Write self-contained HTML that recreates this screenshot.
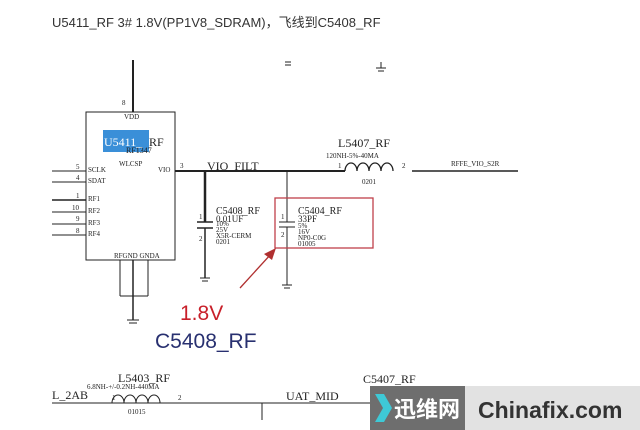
<!DOCTYPE html>
<html><head><style>
body{margin:0;background:#fff;width:640px;height:430px;overflow:hidden}
svg{display:block}
.s{font-family:"Liberation Serif",serif;fill:#222}
</style></head><body>
<svg width="640" height="430" xmlns="http://www.w3.org/2000/svg">
<text x="52" y="27" font-family="Liberation Sans,'Noto Sans CJK SC',sans-serif" font-size="13" fill="#333">U5411_RF 3# 1.8V(PP1V8_SDRAM)，飞线到C5408_RF</text>
<g stroke="#222" fill="none" stroke-width="1">
<line x1="285" y1="62" x2="291" y2="62"/><line x1="285" y1="65" x2="291" y2="65"/>
<line x1="381" y1="62" x2="381" y2="68"/><line x1="376" y1="68" x2="386" y2="68"/><line x1="378" y1="71" x2="384" y2="71"/>
<line x1="133" y1="60" x2="133" y2="112" stroke-width="2"/>
<rect x="86" y="112" width="89" height="148"/>
<line x1="52" y1="171" x2="86" y2="171"/><line x1="52" y1="182" x2="86" y2="182"/>
<line x1="52" y1="200" x2="86" y2="200" stroke-width="1.5"/><line x1="52" y1="212" x2="86" y2="212"/>
<line x1="52" y1="224" x2="86" y2="224"/><line x1="52" y1="235" x2="86" y2="235"/>
<line x1="120" y1="260" x2="120" y2="296"/><line x1="148" y1="260" x2="148" y2="296"/><line x1="120" y1="296" x2="148" y2="296"/>
<line x1="133" y1="260" x2="133" y2="320" stroke-width="1.5"/>
<line x1="127" y1="320" x2="139" y2="320"/><line x1="129" y1="323" x2="137" y2="323"/>
<line x1="175" y1="171" x2="345" y2="171" stroke-width="2"/>
<line x1="205" y1="171" x2="205" y2="222" stroke-width="2.5"/>
<line x1="197" y1="222" x2="213" y2="222" stroke-width="1.5"/><line x1="197" y1="228" x2="213" y2="228" stroke-width="1.5"/>
<line x1="205" y1="228" x2="205" y2="278" stroke-width="1.5"/>
<line x1="200" y1="278" x2="210" y2="278"/><line x1="202" y1="281" x2="208" y2="281"/>
<line x1="287" y1="171" x2="287" y2="222"/>
<line x1="279" y1="222" x2="295" y2="222"/><line x1="279" y1="227" x2="295" y2="227"/>
<line x1="287" y1="227" x2="287" y2="285"/>
<line x1="282" y1="285" x2="292" y2="285"/><line x1="284" y1="288" x2="290" y2="288"/>
<path d="M345 171 a6 8 0 0 1 12 0 a6 8 0 0 1 12 0 a6 8 0 0 1 12 0 a6 8 0 0 1 12 0" stroke-width="1.3"/>
<line x1="412" y1="171" x2="518" y2="171" stroke-width="1.5"/>
<line x1="52" y1="403" x2="370" y2="403"/>
<path d="M112 403 a6 8 0 0 1 12 0 a6 8 0 0 1 12 0 a6 8 0 0 1 12 0 a6 8 0 0 1 12 0"/>
<line x1="262" y1="403" x2="262" y2="420"/>
</g>
<rect x="275" y="198" width="98" height="50" fill="none" stroke="#c0404a" stroke-width="1.3"/>
<line x1="240" y1="288" x2="271" y2="254" stroke="#b03030" stroke-width="1.3"/>
<polygon points="276,248 264,254 272,260" fill="#b03030"/>
<rect x="103" y="130" width="46" height="22" fill="#3a8fd8"/>
<g class="s" font-size="7">
<text x="122" y="105">8</text><text x="124" y="119">VDD</text>
<text x="126" y="153" font-size="8">RF1347</text><text x="119" y="166">WLCSP</text>
<text x="158" y="172">VIO</text><text x="180" y="168">3</text>
<text x="76" y="169">5</text><text x="88" y="172">SCLK</text>
<text x="76" y="180">4</text><text x="88" y="183">SDAT</text>
<text x="76" y="198">1</text><text x="88" y="201">RF1</text>
<text x="72" y="210">10</text><text x="88" y="213">RF2</text>
<text x="76" y="221">9</text><text x="88" y="225">RF3</text>
<text x="76" y="233">8</text><text x="88" y="236">RF4</text>
<text x="114" y="258">RFGND GNDA</text>
<text x="216" y="226">10%</text><text x="216" y="232">25V</text><text x="216" y="238">X5R-CERM</text><text x="216" y="244">0201</text>
<text x="199" y="219">1</text><text x="199" y="241">2</text>
<text x="281" y="219">1</text><text x="281" y="237">2</text>
<text x="298" y="228">5%</text><text x="298" y="234">16V</text><text x="298" y="240">NP0-C0G</text><text x="298" y="246">01005</text>
<text x="326" y="158">120NH-5%-40MA</text><text x="338" y="168">1</text><text x="402" y="168">2</text><text x="362" y="184">0201</text>
<text x="451" y="166">RFFE_VIO_S2R</text>
<text x="87" y="389">6.8NH-+/-0.2NH-440MA</text><text x="112" y="400">1</text><text x="178" y="400">2</text><text x="128" y="414">01015</text>
</g>
<g class="s" font-size="12">
<text x="104" y="146" fill="#fff" font-size="12">U5411_</text><text x="149" y="146">RF</text>
<text x="207" y="170">VIO_FILT</text>
<text x="216" y="214" font-size="10">C5408_RF</text><text x="216" y="222" font-size="9">0.01UF</text>
<text x="298" y="214" font-size="10">C5404_RF</text><text x="298" y="222" font-size="9">33PF</text>
<text x="338" y="147">L5407_RF</text>
<text x="118" y="382">L5403_RF</text>
<text x="52" y="399">L_2AB</text>
<text x="286" y="400">UAT_MID</text>
<text x="363" y="383">C5407_RF</text>
</g>
<text x="180" y="320" font-family="Liberation Sans,sans-serif" font-size="21" fill="#c8202a">1.8V</text>
<text x="155" y="348" font-family="Liberation Sans,sans-serif" font-size="21" fill="#283070">C5408_RF</text>
<rect x="370" y="386" width="95" height="44" fill="#555" opacity="0.85"/>
<rect x="465" y="386" width="175" height="44" fill="#ddd" opacity="0.85"/>
<polygon points="375,394 384,394 392,408 384,422 375,422 383,408" fill="#3ec9d6"/>
<text x="394" y="417" font-family="'Noto Sans CJK SC',sans-serif" font-size="22" font-weight="bold" fill="#fff">迅维网</text>
<text x="478" y="418" font-family="Liberation Sans,sans-serif" font-size="23" font-weight="bold" fill="#333">Chinafix.com</text>
</svg>
</body></html>
